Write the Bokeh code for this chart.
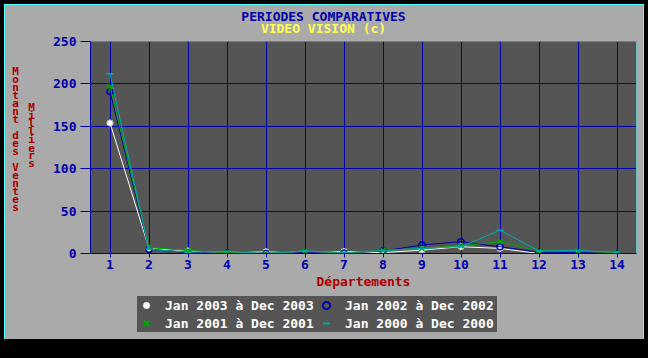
from bokeh.plotting import figure
from bokeh.models import Legend, LegendItem, Span, FixedTicker, Range1d, Div
from bokeh.layouts import column, row
from bokeh.core.properties import value
from bokeh.embed import file_html
from bokeh.resources import INLINE

# ---- data ----
departements = list(range(1, 15))
ventes_2003 = [154, 6, 3, 0.5, 2, 0, 2.5, 1, 4, 8, 6, 0, 0, 0]
ventes_2002 = [191, 5, 1, 0.5, 0, 1, 0.5, 3, 10, 14, 8, 1.5, 1, 0]
ventes_2001 = [197, 7, 3.5, 1, 0, 3, 0.5, 3.5, 6, 9, 14, 3, 3, 1]
ventes_2000 = [212, 5, 1.5, 2.5, 0, 3, 1, 3.5, 6, 8, 27.5, 3, 3.5, 1.5]
series_labels = ["Jan 2003 à Dec 2003", "Jan 2002 à Dec 2002",
                 "Jan 2001 à Dec 2001", "Jan 2000 à Dec 2000"]
y_ticks = [0, 50, 100, 150, 200, 250]
title_text = "PERIODES COMPARATIVES"
subtitle_text = "VIDEO VISION (c)"
y_label = "Montant des Ventes"
y_unit = "Milliers"
x_label = "Départements"

FONT = "DejaVu Sans Mono"
BLUE = "#0000AA"
RED = "#AA0000"
GRAY = "#AAAAAA"
DARK = "#555555"
COLORS = ["#FFFFFF", BLUE, "#00AA00", "#00AAAA"]
MARKERS = ["asterisk", "circle", "x", "dash"]
SIZES = [7, 6, 7, 7]


def strip(width, height, xr, yr, top=0, bottom=0):
    """A plain figure used as a text strip; its frame is expressed in page pixels."""
    f = figure(width=width, height=height, x_range=Range1d(*xr), y_range=Range1d(*yr),
               output_backend="svg", toolbar_location=None,
               min_border_left=0, min_border_right=0,
               min_border_top=top, min_border_bottom=bottom,
               x_axis_location=None, y_axis_location=None)
    f.grid.visible = False
    f.background_fill_alpha = 0
    f.border_fill_alpha = 0
    f.outline_line_color = None
    return f


TXT = dict(text_font=value(FONT), text_font_style="bold", text_font_size="13px",
           text_align="center", text_baseline="middle")

# ---- titles strip (page y 5..35) ----
tf = strip(638, 30, (5, 643), (35, 5))
tf.text(x=[323], y=[16], text=[title_text], text_color=BLUE, **TXT)
tf.text(x=[323], y=[27.5], text=[subtitle_text], text_color="#FFFF55", **TXT)

# ---- left strip with upright stacked letters (frame = page y 41..253) ----
lf = strip(40, 258, (5, 45), (253, 41), top=6, bottom=40)
chars, cx, cy = [], [], []
for i, ch in enumerate(y_label):
    chars.append(ch); cx.append(15); cy.append(70.7 + 8 * i)
for i, ch in enumerate(y_unit):
    chars.append(ch); cx.append(31); cy.append(106.7 + 8.1 * i)
lf.text(x=cx, y=cy, text=chars, text_color=RED, **{**TXT, "text_font_size": "11px"})

# ---- main chart ----
p = figure(width=598, height=258, x_range=Range1d(0.5, 14.5), y_range=Range1d(0, 250),
           output_backend="svg", toolbar_location=None, title=None,
           min_border_left=45, min_border_right=7, min_border_top=6, min_border_bottom=40)
p.background_fill_color = DARK
p.border_fill_alpha = 0
p.outline_line_color = None

for ax in (p.xaxis[0], p.yaxis[0]):
    ax.axis_line_color = BLUE
    ax.major_tick_line_color = BLUE
    ax.minor_tick_line_color = None
    ax.major_tick_in = 0
    ax.major_label_text_font = FONT
    ax.major_label_text_font_style = "bold"
    ax.major_label_text_font_size = "13px"
    ax.major_label_text_color = BLUE

p.xaxis.ticker = FixedTicker(ticks=departements)
p.xaxis.major_tick_out = 4
p.xaxis.major_label_standoff = 2
p.xaxis.axis_label = x_label
p.xaxis.axis_label_text_font = FONT
p.xaxis.axis_label_text_font_style = "bold"
p.xaxis.axis_label_text_font_size = "13px"
p.xaxis.axis_label_text_color = RED
p.xaxis.axis_label_standoff = 2

p.yaxis.ticker = FixedTicker(ticks=y_ticks)
p.yaxis.major_tick_out = 10
p.yaxis.major_label_standoff = 4

p.xgrid.ticker = FixedTicker(ticks=departements)
p.ygrid.ticker = FixedTicker(ticks=y_ticks)
for g in (p.xgrid[0], p.ygrid[0]):
    g.grid_line_color = BLUE
    g.grid_line_width = 1

p.add_layout(Span(location=14.5, dimension="height", line_color="#55FFFF", line_width=1))

for vals, col, mk, sz in zip([ventes_2003, ventes_2002, ventes_2001, ventes_2000],
                             COLORS, MARKERS, SIZES):
    p.line(departements, vals, line_color=col, line_width=1)
    p.scatter(departements, vals, marker=mk, size=sz, line_color=col,
              fill_color=None, line_width=1.5)

# ---- legend strip (page y 293..339); swatch renderers sit outside the visible range ----
bf = strip(638, 46, (0, 1), (0, 1))
swatches = [bf.scatter(x=[-10], y=[-10], marker=mk, size=sz, line_color=col,
                       fill_color=None, line_width=2)
            for col, mk, sz in zip(COLORS, MARKERS, SIZES)]
order = [0, 2, 1, 3]  # legend fills column by column: rows read 2003/2002, 2001/2000
legend = Legend(items=[LegendItem(label=series_labels[i], renderers=[swatches[i]])
                       for i in order],
                ncols=2, location=(132, 7), background_fill_color=DARK,
                background_fill_alpha=1, border_line_color=None,
                label_text_color="#FFFFFF", label_text_font=FONT,
                label_text_font_style="bold", label_text_font_size="13px",
                glyph_width=18, glyph_height=18, label_height=18, label_width=152,
                spacing=0, padding=0, label_standoff=10, margin=0)
bf.add_layout(legend)

panel = column(tf, row(lf, p, spacing=0), bf, spacing=0, margin=(5, 5, 0, 5),
               styles={"outline": "1px solid #55FFFF", "background-color": GRAY})
bottom = Div(text="", width=648, height=19, styles={"background-color": "#000000"}, margin=0)
layout = column(panel, bottom, spacing=0, styles={"background-color": "#000000"})

open("out.html", "w").write(file_html(layout, INLINE))
